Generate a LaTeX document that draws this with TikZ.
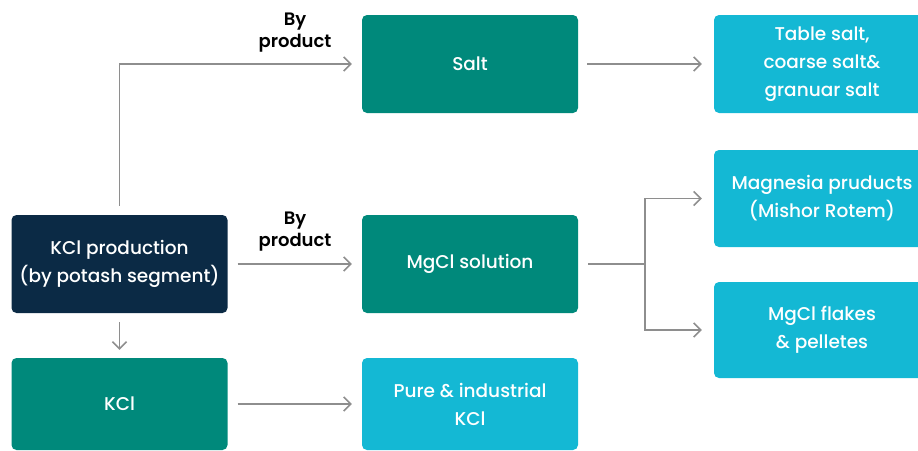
\documentclass[tikz,border=0pt]{standalone}
\usepackage{fontspec}
\setmainfont{Poppins}[UprightFont={Poppins Medium}, BoldFont={Poppins SemiBold}]
\usetikzlibrary{arrows.meta,calc}
\definecolor{navy}{HTML}{0B2A45}
\definecolor{tealbox}{HTML}{00897B}
\definecolor{cyanbox}{HTML}{14B8D4}
\definecolor{arrowgray}{HTML}{8E8E8E}
\tikzset{
  box/.style={rectangle, rounded corners=5pt, minimum width=216pt, inner sep=0pt,
    text=white, align=center, font=\fontsize{18.5}{28}\selectfont},
  navybox/.style={box, fill=navy},
  tealb/.style={box, fill=tealbox},
  cyanb/.style={box, fill=cyanbox},
  conn/.style={draw=arrowgray, line width=1.6pt, -{Straight Barb[length=7pt,width=14pt,line width=1.6pt]}},
  plainline/.style={draw=arrowgray, line width=1.6pt},
  lbl/.style={font=\bfseries\fontsize{18}{22}\selectfont, align=center, text=black, inner sep=0pt}
}
\begin{document}
\begin{tikzpicture}[x=1pt,y=-1pt]
\useasboundingbox (0,0) rectangle (918,450);
\clip (0,0) rectangle (918,450);
% nodes
\node[navybox, minimum height=98pt] (prod) at (119.5,264) {KCl production\\(by potash segment)};
\node[tealb, minimum height=92pt] (kcl) at (119.5,404) {KCl};
\node[tealb, minimum height=98pt] (salt) at (470,64) {Salt};
\node[tealb, minimum height=98pt] (mgcl) at (470,264) {MgCl solution};
\node[cyanb, minimum height=92pt] (pure) at (470,404) {Pure \& industrial\\KCl};
\node[cyanb, minimum height=98pt] (table) at (822,64) {Table salt,\\coarse salt\&\\granuar salt};
\node[cyanb, minimum height=97pt] (magn) at (822,198.5) {Magnesia pruducts\\(Mishor Rotem)};
\node[cyanb, minimum height=96pt] (flakes) at (822,330) {MgCl flakes\\\& pelletes};
% labels
\node[lbl] (lbl1) at (295,33) {By\\product};
\node[lbl] (lbl2) at (295,232) {By\\product};
% connectors
\coordinate (corner) at (prod.north |- salt.west);
\draw[conn, shorten <=9pt, shorten >=10pt] (prod.north) -- (corner) -- (salt.west);
\draw[conn, shorten <=10pt, shorten >=10pt] (prod.east) -- (mgcl.west);
\draw[conn, shorten <=9pt, shorten >=8pt] (prod.south) -- (kcl.north);
\draw[conn, shorten <=10pt, shorten >=10pt] (kcl.east) -- (kcl.east -| pure.west);
\draw[conn, shorten <=9pt, shorten >=12pt] (salt.east) -- (table.west);
\coordinate (split) at (645,264);
\draw[plainline, shorten <=10pt] (mgcl.east) -- (split);
\draw[conn, shorten >=12pt] (split) |- (magn.west);
\draw[conn, shorten >=12pt] (split) |- (flakes.west);
\end{tikzpicture}
\end{document}
